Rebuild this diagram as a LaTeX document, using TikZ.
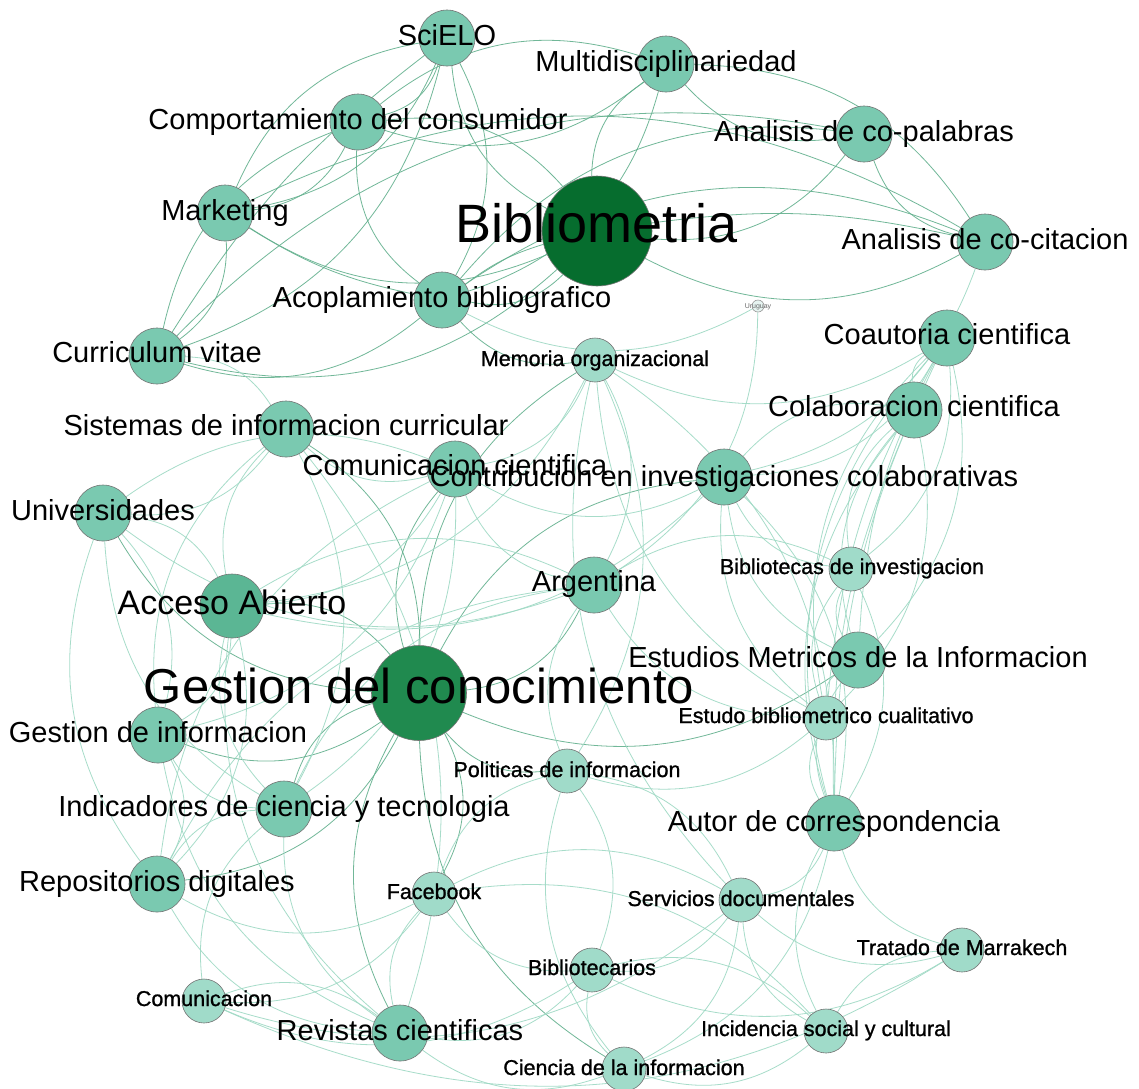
\documentclass[tikz,border=0pt]{standalone}
\usepackage{fontspec}
\setmainfont{Liberation Sans}
\newfontfamily\smallfont[FakeBold=1.0]{Liberation Sans}
\definecolor{cB}{HTML}{066D2E}
\definecolor{cG}{HTML}{208A4F}
\definecolor{cA}{HTML}{5BB694}
\definecolor{cM}{HTML}{7AC9B0}
\definecolor{cL}{HTML}{A0DBC9}
\definecolor{cU}{HTML}{E6F4F1}
\definecolor{eDark}{HTML}{62B08D}
\definecolor{eLight}{HTML}{9ED9C4}
\pgfdeclarelayer{bgl}
\pgfdeclarelayer{edges}
\pgfsetlayers{bgl,edges,main}
\begin{document}
\begin{tikzpicture}[x=1pt,y=-1pt,
  nd/.style={circle,inner sep=0pt,draw=black!55,line width=0.6pt},
  nM/.style={nd,minimum size=56pt,fill=cM},
  nL/.style={nd,minimum size=44pt,fill=cL},
  lab/.style={anchor=base,inner sep=0pt,text=black},
  lM/.style={lab,font=\fontsize{29}{29}\selectfont},
  lS/.style={lab,font=\smallfont\fontsize{21.5}{21.5}\selectfont},
  eA/.style={draw=eDark,line width=0.8pt,draw opacity=0.9},
  eB/.style={draw=eLight,line width=0.8pt,draw opacity=0.9}]
\useasboundingbox (0,0) rectangle (1139,1088);
\begin{pgfonlayer}{bgl}
\fill[white] (0,0) rectangle (1139,1088);
\end{pgfonlayer}
% nodes
\node[nM] (sci) at (447,38) {};
\node[nM] (mul) at (666,64) {};
\node[nM] (com) at (358,122) {};
\node[nM] (cop) at (864,134) {};
\node[nd,minimum size=110pt,fill=cB] (bib) at (597,231) {};
\node[nM] (mar) at (225,213) {};
\node[nM] (coc) at (985,242) {};
\node[nM] (aco) at (442,300) {};
\node[nd,minimum size=12pt,fill=cU,draw=black!40] (uru) at (758,306) {};
\node[nM] (cur) at (157,356) {};
\node[nL] (mem) at (595,360) {};
\node[nM] (coa) at (947,338) {};
\node[nM] (sis) at (286,429) {};
\node[nM] (col) at (914,410) {};
\node[nM] (cci) at (455,469) {};
\node[nM] (con) at (724,477) {};
\node[nM] (uni) at (103,513) {};
\node[nL] (bin) at (851,569) {};
\node[nM] (arg) at (594,585) {};
\node[nd,minimum size=64pt,fill=cA] (acc) at (232,606) {};
\node[nd,minimum size=95pt,fill=cG] (gc) at (419,693) {};
\node[nM] (emi) at (858,660) {};
\node[nL] (ebc) at (826,718) {};
\node[nM] (gi) at (158,735) {};
\node[nL] (pol) at (567,771) {};
\node[nM] (ind) at (284,809) {};
\node[nM] (aut) at (834,823) {};
\node[nM] (rep) at (157,884) {};
\node[nL] (fac) at (434,894) {};
\node[nL] (ser) at (741,900) {};
\node[nL] (tra) at (962,950) {};
\node[nL] (btc) at (592,970) {};
\node[nL] (cmn) at (204,1001) {};
\node[nM] (rev) at (400,1033) {};
\node[nL] (inc) at (826,1031) {};
\node[nL] (cie) at (624,1069) {};
% edges
\begin{pgfonlayer}{edges}
\foreach \a/\b in {com/sci,mar/sci,cur/sci,aco/sci,sci/bib,mar/com,com/cur,bib/com,com/aco,
  mar/bib,coc/mar,cur/mar,cur/bib,cop/cur,cur/aco,aco/bib,mul/bib,aco/mul,mul/com,mul/cop,
  coc/mul,bib/cop,cop/aco,cop/coc,bib/coc,coc/aco,aco/mem,sci/mar,com/mul,
  gc/acc,uni/gc,gc/sis,cci/gc,gc/arg,gi/gc,gc/ind,rep/gc,gc/rev,mem/gc,gc/pol,con/gc,gc/emi,gc/cie,fac/gc}
  \draw[eA] (\a) to[bend right=28] (\b);
\foreach \a/\b in {sci/cur,mar/aco,bib/aco,coc/bib}
  \draw[eA] (\a) to[bend right=10] (\b);
\foreach \a/\b in {aco/uru,arg/uru,con/coc,mem/coa,
  coa/col,con/coa,bin/coa,emi/coa,coa/ebc,coa/aut,col/con,col/bin,ebc/col,col/emi,col/aut,
  con/bin,con/emi,con/ebc,aut/con,bin/emi,bin/ebc,aut/bin,emi/ebc,emi/aut,ebc/aut,
  acc/uni,sis/acc,acc/cci,arg/acc,gi/acc,acc/ind,rep/acc,acc/rev,acc/mem,acc/con,
  uni/sis,gi/uni,uni/ind,uni/rep,cci/uni,uni/arg,
  sis/cci,ind/sis,sis/gi,rev/sis,sis/cur,
  cci/arg,ind/cci,cci/mem,gi/cci,cci/rep,cci/con,
  gi/ind,rep/gi,gi/rev,ind/rep,arg/ind,ind/rev,ind/cmn,
  rep/rev,arg/rep,rep/fac,
  arg/pol,bin/arg,arg/mem,arg/ebc,
  pol/mem,mem/ser,aut/mem,mem/ebc,
  pol/ebc,btc/pol,pol/cie,ser/pol,pol/fac,
  cmn/fac,fac/rev,ser/fac,fac/btc,inc/fac,rev/cmn,cmn/ser,cmn/btc,cmn/tra,
  ser/tra,btc/ser,ser/inc,cie/ser,ser/aut,tra/inc,btc/tra,aut/tra,inc/btc,btc/cie,
  cie/inc,rev/cie,aut/inc,cie/aut,rev/btc}
  \draw[eB] (\a) to[bend right=28] (\b);
\foreach \a/\b in {coa/aut,col/aut,coa/ebc,coa/emi}
  \draw[eB] (\a) to[bend right=12] (\b);
\end{pgfonlayer}
% labels
\node[lM] (sci-t) at (447,45) {SciELO};
\node[lM] (mul-t) at (666,71) {Multidisciplinariedad};
\node[lM] (com-t) at (358,129) {Comportamiento del consumidor};
\node[lM] (cop-t) at (864,141) {Analisis de co-palabras};
\node[lab,font=\fontsize{54}{54}\selectfont] (bib-t) at (597,242) {Bibliometria};
\node[lM] (mar-t) at (225,220) {Marketing};
\node[lM] (coc-t) at (985,249) {Analisis de co-citacion};
\node[lM] (aco-t) at (442,307) {Acoplamiento bibliografico};
\node[lab,font=\fontsize{7}{7}\selectfont,text=black!60] (uru-t) at (758,308.5) {Uruguay};
\node[lM] (cur-t) at (157,362) {Curriculum vitae};
\node[lS] (mem-t) at (595,366) {Memoria organizacional};
\node[lM] (coa-t) at (947,344) {Coautoria cientifica};
\node[lM] (sis-t) at (286,435) {Sistemas de informacion curricular};
\node[lM] (col-t) at (914,416) {Colaboracion cientifica};
\node[lM] (cci-t) at (455,475) {Comunicacion cientifica};
\node[lM] (con-t) at (724,486) {Contribucion en investigaciones colaborativas};
\node[lM] (uni-t) at (103,520) {Universidades};
\node[lS] (bin-t) at (852,574) {Bibliotecas de investigacion};
\node[lM] (arg-t) at (594,591) {Argentina};
\node[lab,font=\fontsize{34}{34}\selectfont] (acc-t) at (232,614) {Acceso Abierto};
\node[lab,font=\fontsize{49}{49}\selectfont] (gc-t) at (419,703) {Gestion del conocimiento};
\node[lM] (emi-t) at (858,667) {Estudios Metricos de la Informacion};
\node[lS] (ebc-t) at (826,723) {Estudo bibliometrico cualitativo};
\node[lM] (gi-t) at (158,742) {Gestion de informacion};
\node[lS] (pol-t) at (567,777) {Politicas de informacion};
\node[lM] (ind-t) at (284,816) {Indicadores de ciencia y tecnologia};
\node[lM] (aut-t) at (834,831) {Autor de correspondencia};
\node[lM] (rep-t) at (157,891) {Repositorios digitales};
\node[lS] (fac-t) at (434,899) {Facebook};
\node[lS] (ser-t) at (741,906) {Servicios documentales};
\node[lS] (tra-t) at (962,955) {Tratado de Marrakech};
\node[lS] (btc-t) at (592,975) {Bibliotecarios};
\node[lS] (cmn-t) at (204,1006) {Comunicacion};
\node[lM] (rev-t) at (400,1040) {Revistas cientificas};
\node[lS] (inc-t) at (826,1036) {Incidencia social y cultural};
\node[lS] (cie-t) at (624,1075) {Ciencia de la informacion};
\end{tikzpicture}
\end{document}
